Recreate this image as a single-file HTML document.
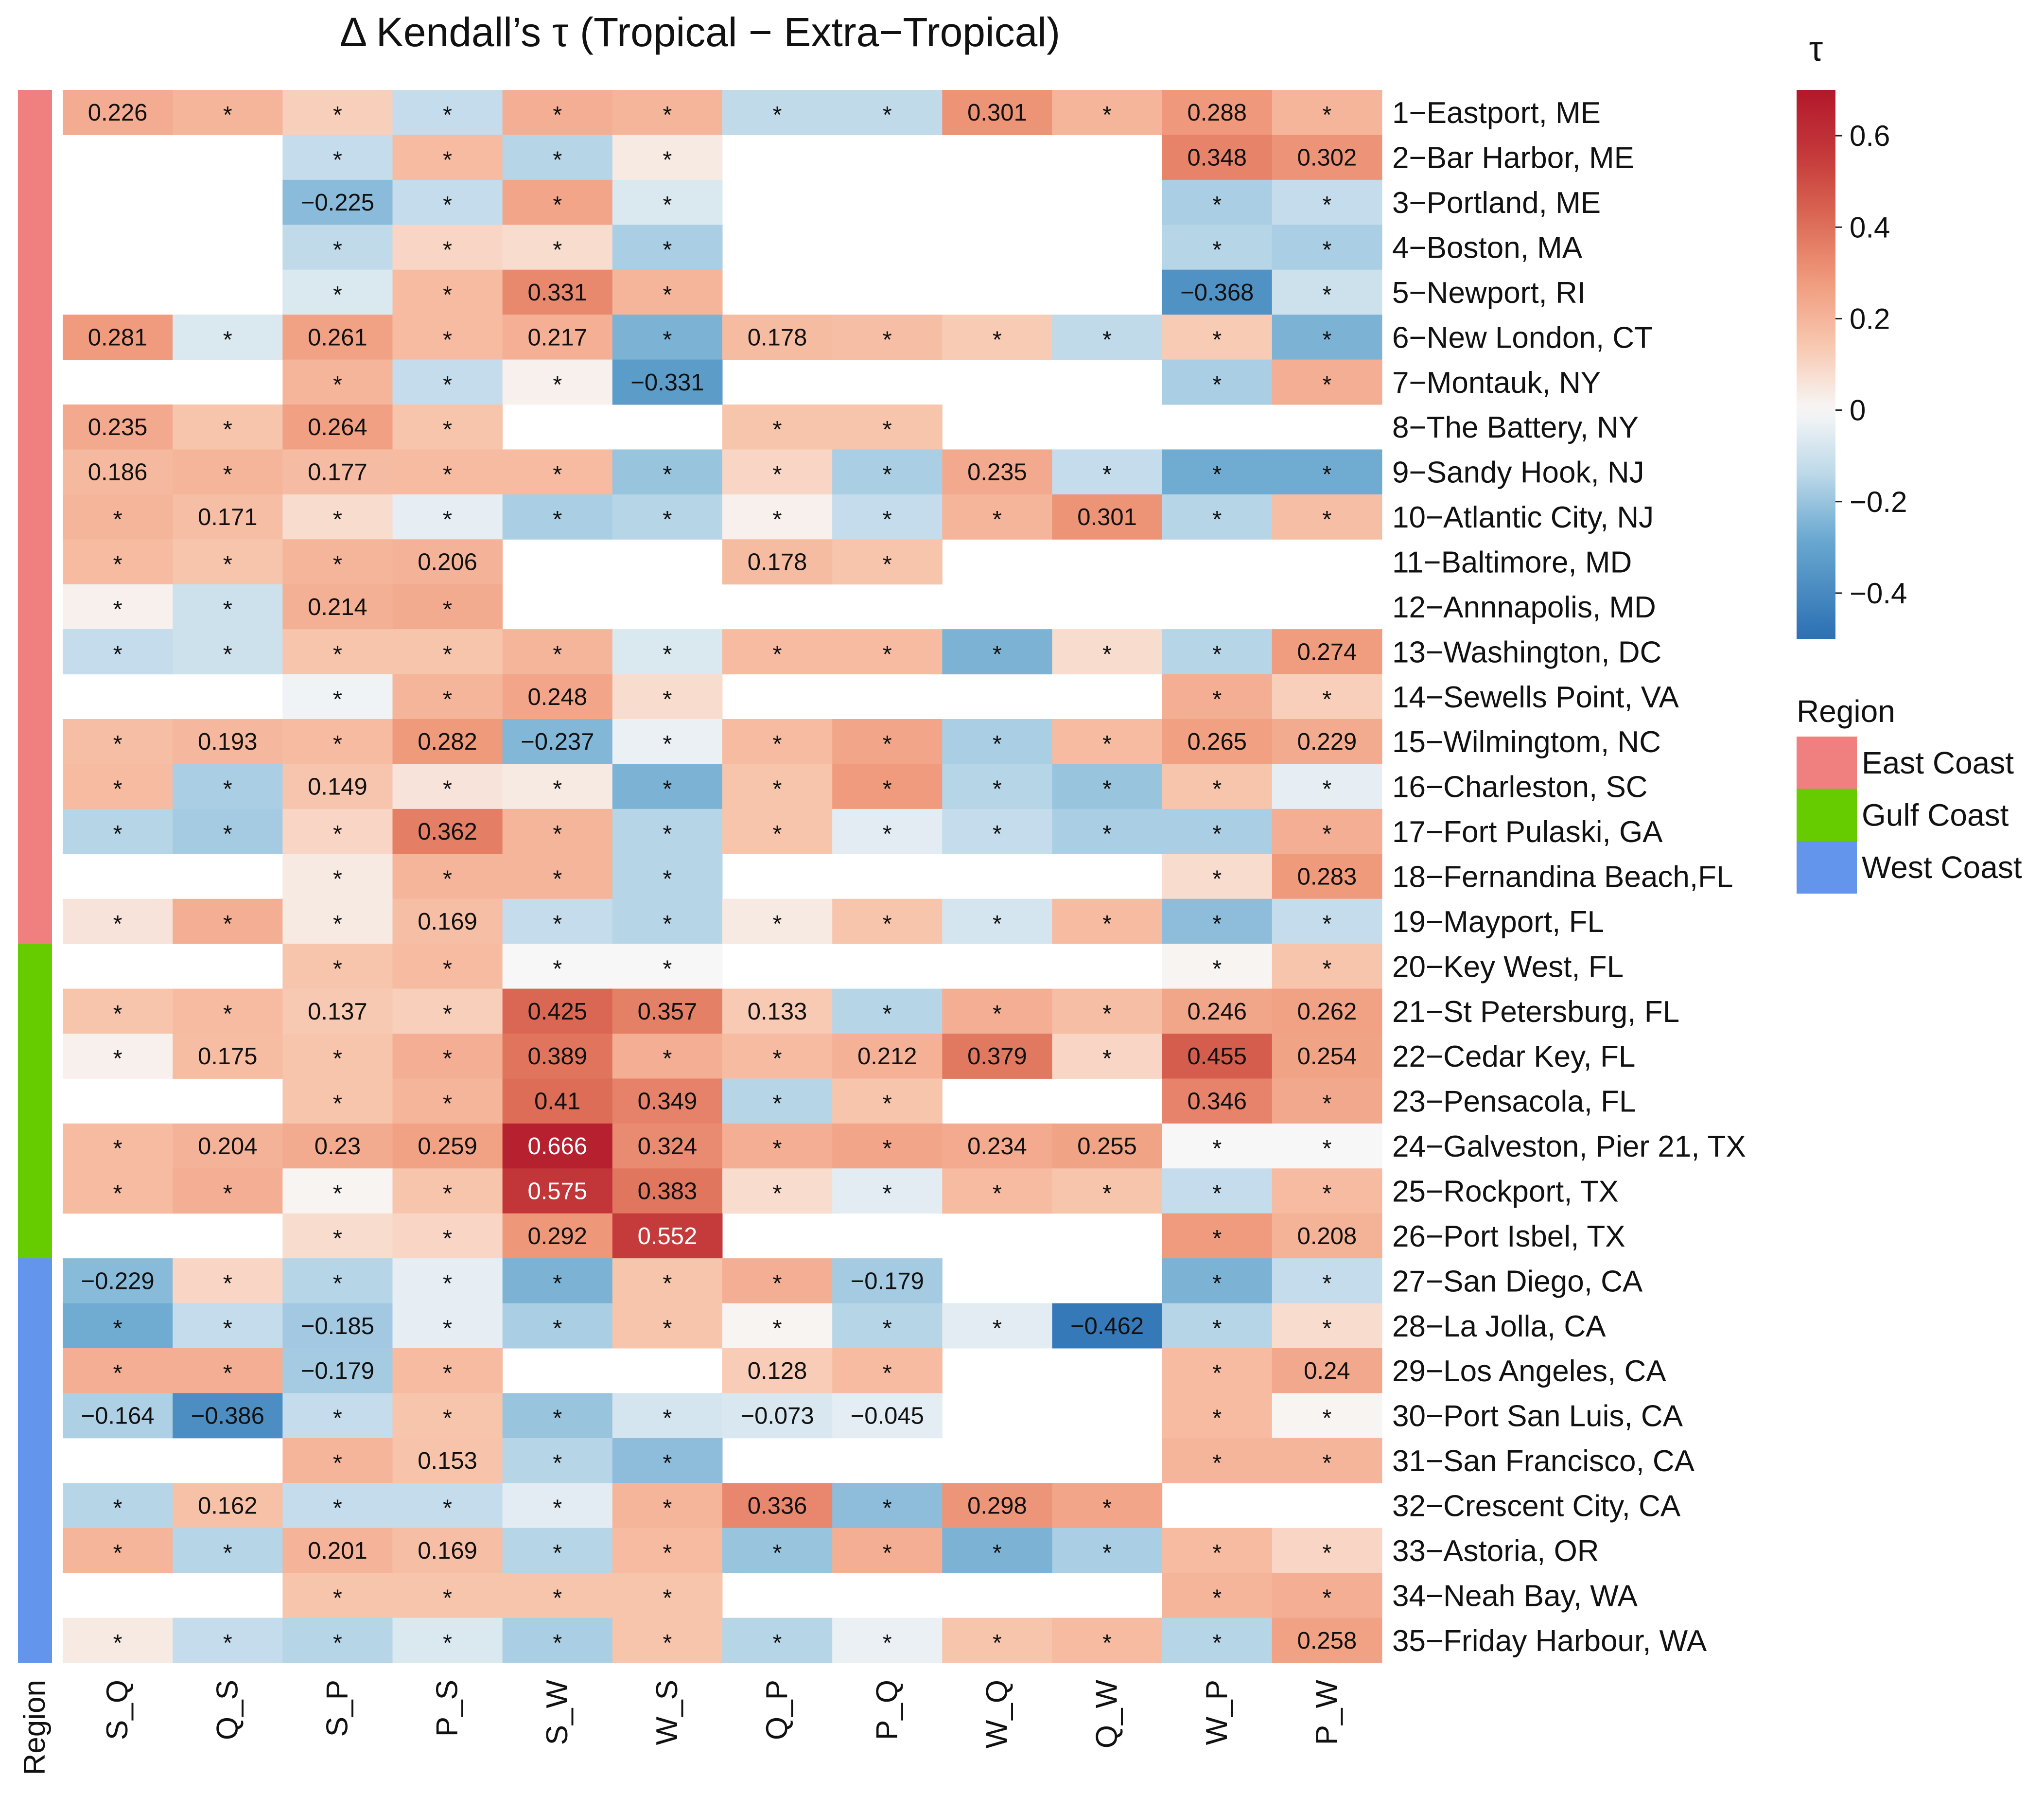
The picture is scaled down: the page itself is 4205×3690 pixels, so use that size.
<!DOCTYPE html>
<html><head><meta charset="utf-8"><style>
html,body{margin:0;padding:0;background:#fff;}
svg{display:block;font-family:"Liberation Sans","DejaVu Sans",sans-serif;}
</style></head><body>
<svg id="chart" width="4205" height="3690" viewBox="0 0 4205 3690" xmlns="http://www.w3.org/2000/svg">
<text x="1440" y="95" font-size="84" text-anchor="middle" fill="#111">Δ Kendall’s  τ (Tropical − Extra−Tropical)</text>
<g id="cells"></g>
<g id="region-bar"></g>
<g id="labels"></g>
<g id="cbar"></g>
<g id="legend"></g>
</svg>
<script>
const columns = ["S_Q","Q_S","S_P","P_S","S_W","W_S","Q_P","P_Q","W_Q","Q_W","W_P","P_W"];
const stations = ["1−Eastport, ME","2−Bar Harbor, ME","3−Portland, ME","4−Boston, MA","5−Newport, RI","6−New London, CT","7−Montauk, NY","8−The Battery, NY","9−Sandy Hook, NJ","10−Atlantic City, NJ","11−Baltimore, MD","12−Annnapolis, MD","13−Washington, DC","14−Sewells Point, VA","15−Wilmingtom, NC","16−Charleston, SC","17−Fort Pulaski, GA","18−Fernandina Beach,FL","19−Mayport, FL","20−Key West, FL","21−St Petersburg, FL","22−Cedar Key, FL","23−Pensacola, FL","24−Galveston, Pier 21, TX","25−Rockport, TX","26−Port Isbel, TX","27−San Diego, CA","28−La Jolla, CA","29−Los Angeles, CA","30−Port San Luis, CA","31−San Francisco, CA","32−Crescent City, CA","33−Astoria, OR","34−Neah Bay, WA","35−Friday Harbour, WA"];
const regions = ["East","East","East","East","East","East","East","East","East","East","East","East","East","East","East","East","East","East","East","Gulf","Gulf","Gulf","Gulf","Gulf","Gulf","Gulf","West","West","West","West","West","West","West","West","West"];
const N = null;
const tauValues = [
[0.226,0.2,0.12,-0.12,0.22,0.2,-0.13,-0.13,0.301,0.2,0.288,0.2],
[N,N,-0.12,0.18,-0.15,0.04,N,N,N,N,0.348,0.302],
[N,N,-0.225,-0.12,0.25,-0.07,N,N,N,N,-0.17,-0.12],
[N,N,-0.13,0.1,0.08,-0.17,N,N,N,N,-0.15,-0.17],
[N,N,-0.07,0.18,0.331,0.2,N,N,N,N,-0.368,-0.1],
[0.281,-0.07,0.261,0.18,0.217,-0.25,0.178,0.17,0.13,-0.13,0.13,-0.25],
[N,N,0.2,-0.12,0.02,-0.331,N,N,N,N,-0.17,0.22],
[0.235,0.15,0.264,0.15,N,N,0.15,0.15,N,N,N,N],
[0.186,0.2,0.177,0.18,0.18,-0.2,0.1,-0.17,0.235,-0.12,-0.27,-0.27],
[0.2,0.171,0.08,-0.04,-0.17,-0.15,0.02,-0.12,0.2,0.301,-0.15,0.17],
[0.18,0.15,0.2,0.206,N,N,0.178,0.15,N,N,N,N],
[0.02,-0.1,0.214,0.23,N,N,N,N,N,N,N,N],
[-0.12,-0.1,0.15,0.15,0.2,-0.07,0.18,0.18,-0.25,0.08,-0.15,0.274],
[N,N,-0.02,0.2,0.248,0.08,N,N,N,N,0.22,0.12],
[0.17,0.193,0.18,0.282,-0.237,-0.03,0.18,0.25,-0.17,0.18,0.265,0.229],
[0.18,-0.17,0.149,0.06,0.04,-0.25,0.15,0.28,-0.15,-0.2,0.15,-0.04],
[-0.15,-0.18,0.1,0.362,0.2,-0.15,0.15,-0.05,-0.12,-0.17,-0.17,0.22],
[N,N,0.04,0.2,0.2,-0.15,N,N,N,N,0.08,0.283],
[0.06,0.22,0.04,0.169,-0.12,-0.15,0.04,0.15,-0.08,0.18,-0.22,-0.12],
[N,N,0.15,0.18,0.0,0.0,N,N,N,N,0.01,0.15],
[0.15,0.18,0.137,0.12,0.425,0.357,0.133,-0.15,0.22,0.17,0.246,0.262],
[0.02,0.175,0.15,0.22,0.389,0.22,0.18,0.212,0.379,0.1,0.455,0.254],
[N,N,0.15,0.2,0.41,0.349,-0.15,0.15,N,N,0.346,0.24],
[0.18,0.204,0.23,0.259,0.666,0.324,0.22,0.25,0.234,0.255,0.0,0.0],
[0.18,0.22,0.01,0.15,0.575,0.383,0.08,-0.05,0.18,0.15,-0.12,0.18],
[N,N,0.08,0.1,0.292,0.552,N,N,N,N,0.28,0.208],
[-0.229,0.1,-0.15,-0.04,-0.25,0.15,0.22,-0.179,N,N,-0.25,-0.12],
[-0.27,-0.12,-0.185,-0.04,-0.17,0.15,0.01,-0.15,-0.05,-0.462,-0.15,0.08],
[0.22,0.22,-0.179,0.18,N,N,0.128,0.18,N,N,0.18,0.24],
[-0.164,-0.386,-0.12,0.15,-0.2,-0.08,-0.073,-0.045,N,N,0.18,0.01],
[N,N,0.2,0.153,-0.15,-0.22,N,N,N,N,0.2,0.2],
[-0.15,0.162,-0.12,-0.12,-0.05,0.2,0.336,-0.22,0.298,0.25,N,N],
[0.2,-0.15,0.201,0.169,-0.15,0.18,-0.2,0.22,-0.25,-0.17,0.18,0.1],
[N,N,0.15,0.15,0.15,0.15,N,N,N,N,0.2,0.22],
[0.04,-0.12,-0.15,-0.07,-0.17,0.15,-0.15,-0.03,0.15,0.18,-0.15,0.258]
];
const significant = [
[1,0,0,0,0,0,0,0,1,0,1,0],[0,0,0,0,0,0,0,0,0,0,1,1],[0,0,1,0,0,0,0,0,0,0,0,0],[0,0,0,0,0,0,0,0,0,0,0,0],
[0,0,0,0,1,0,0,0,0,0,1,0],[1,0,1,0,1,0,1,0,0,0,0,0],[0,0,0,0,0,1,0,0,0,0,0,0],[1,0,1,0,0,0,0,0,0,0,0,0],
[1,0,1,0,0,0,0,0,1,0,0,0],[0,1,0,0,0,0,0,0,0,1,0,0],[0,0,0,1,0,0,1,0,0,0,0,0],[0,0,1,0,0,0,0,0,0,0,0,0],
[0,0,0,0,0,0,0,0,0,0,0,1],[0,0,0,0,1,0,0,0,0,0,0,0],[0,1,0,1,1,0,0,0,0,0,1,1],[0,0,1,0,0,0,0,0,0,0,0,0],
[0,0,0,1,0,0,0,0,0,0,0,0],[0,0,0,0,0,0,0,0,0,0,0,1],[0,0,0,1,0,0,0,0,0,0,0,0],[0,0,0,0,0,0,0,0,0,0,0,0],
[0,0,1,0,1,1,1,0,0,0,1,1],[0,1,0,0,1,0,0,1,1,0,1,1],[0,0,0,0,1,1,0,0,0,0,1,0],[0,1,1,1,1,1,0,0,1,1,0,0],
[0,0,0,0,1,1,0,0,0,0,0,0],[0,0,0,0,1,1,0,0,0,0,0,1],[1,0,0,0,0,0,0,1,0,0,0,0],[0,0,1,0,0,0,0,0,0,1,0,0],
[0,0,1,0,0,0,1,0,0,0,0,1],[1,1,0,0,0,0,1,1,0,0,0,0],[0,0,0,1,0,0,0,0,0,0,0,0],[0,1,0,0,0,0,1,0,1,0,0,0],
[0,0,1,1,0,0,0,0,0,0,0,0],[0,0,0,0,0,0,0,0,0,0,0,0],[0,0,0,0,0,0,0,0,0,0,0,1]
];
const cbarTicks = [0.6,0.4,0.2,0,-0.2,-0.4];
const regionNames = ["East Coast","Gulf Coast","West Coast"];

const NS="http://www.w3.org/2000/svg";
const X0=129,X1=2843,Y0=185,Y1=3420;
const cw=(X1-X0)/columns.length, rh=(Y1-Y0)/stations.length;
const VMAX=0.7, VMIN=-0.5, CB_TOP=185, CB_BOT=1314;
const stops=[[-1,[31,95,165]],[-0.7,[46,114,181]],[-0.4,[106,169,208]],[-0.2,[188,216,233]],[0,[247,247,247]],[0.2,[248,200,176]],[0.4,[240,155,125]],[0.6,[219,105,84]],[0.8,[196,56,58]],[1,[178,24,43]]];
function color(v){let t=Math.max(-1,Math.min(1,v/VMAX));for(let i=0;i<stops.length-1;i++){const a=stops[i],b=stops[i+1];if(t<=b[0]){const f=(t-a[0])/(b[0]-a[0]);const c=a[1].map((x,k)=>Math.round(x+(b[1][k]-x)*f));return `rgb(${c.join(',')})`;}}return 'rgb(178,24,43)';}
const regionColor={East:"#f08080",Gulf:"#66cc00",West:"#6495ed"};
function xPos(j){return X0+j*cw;}
function yPos(i){return Y0+i*rh;}
function cbY(v){return CB_TOP+(VMAX-v)/(VMAX-VMIN)*(CB_BOT-CB_TOP);}
function mk(tag,attrs,parent,text){const e=document.createElementNS(NS,tag);for(const k in attrs)e.setAttribute(k,attrs[k]);if(text!==undefined)e.textContent=text;parent.appendChild(e);return e;}
const gc=document.getElementById('cells');
tauValues.forEach((row,i)=>{row.forEach((v,j)=>{
  if(v===null)return;
  const r=mk('rect',{x:xPos(j),y:yPos(i),width:cw+0.5,height:rh+0.5,fill:color(v)},gc);
  
  
  const lbl=significant[i][j]?String(v).replace('-','−'):'*';
  const t=mk('text',{x:xPos(j)+cw/2,y:yPos(i)+rh/2+(lbl==='*'?22:17),'font-size':49,'text-anchor':'middle',fill:v>0.5?'#fff':'#111'},gc,lbl);
  
  
});});
const gr=document.getElementById('region-bar');
regions.forEach((r,i)=>{const e=mk('rect',{x:37,y:yPos(i),width:70,height:rh+0.5,fill:regionColor[r]},gr);
  
  });
const gl=document.getElementById('labels');
stations.forEach((s,i)=>{const e=mk('text',{x:2864,y:yPos(i)+rh/2+22,'font-size':62,fill:'#111'},gl,s);
  
  });
columns.forEach((c,j)=>{const x=xPos(j)+cw/2+20;const e=mk('text',{x:x,y:3455,'font-size':62,'text-anchor':'end',fill:'#111',transform:`rotate(-90 ${x} 3455)`},gl,c);
  
  });
{const x=92;const e=mk('text',{x:x,y:3455,'font-size':62,'text-anchor':'end',fill:'#111',transform:`rotate(-90 ${x} 3455)`},gl,'Region');
  
  }
const gb=document.getElementById('cbar');
const defs=mk('defs',{},gb);const lg=mk('linearGradient',{id:'cg',x1:0,y1:0,x2:0,y2:1},defs);
for(let k=0;k<=40;k++){const v=VMAX-(VMAX-VMIN)*k/40;mk('stop',{offset:(k/40),'stop-color':color(v)},lg);}
{const e=mk('rect',{x:3696,y:CB_TOP,width:80,height:CB_BOT-CB_TOP,fill:'url(#cg)'},gb);

}
cbarTicks.forEach(v=>{const y=cbY(v);mk('line',{x1:3776,x2:3790,y1:y,y2:y,stroke:'#222','stroke-width':3},gb);
  const e=mk('text',{x:3805,y:y+21,'font-size':60,fill:'#111'},gb,(v<0?'−':'')+String(Math.abs(v)));
  
  });
{const e=mk('text',{x:3736,y:125,'font-size':72,'text-anchor':'middle',fill:'#111'},gb,'τ');

}
const gg=document.getElementById('legend');
{const e=mk('text',{x:3696,y:1485,'font-size':64,fill:'#111'},gg,'Region');

}
const lcols=["#f08080","#66cc00","#6495ed"];
regionNames.forEach((n,k)=>{const y=1515+k*107.5;
  const r=mk('rect',{x:3696,y:y,width:124,height:108,fill:lcols[k]},gg);
  
  
  const t=mk('text',{x:3830,y:y+76,'font-size':64,fill:'#111'},gg,n);
  
  });
</script>
</body></html>
